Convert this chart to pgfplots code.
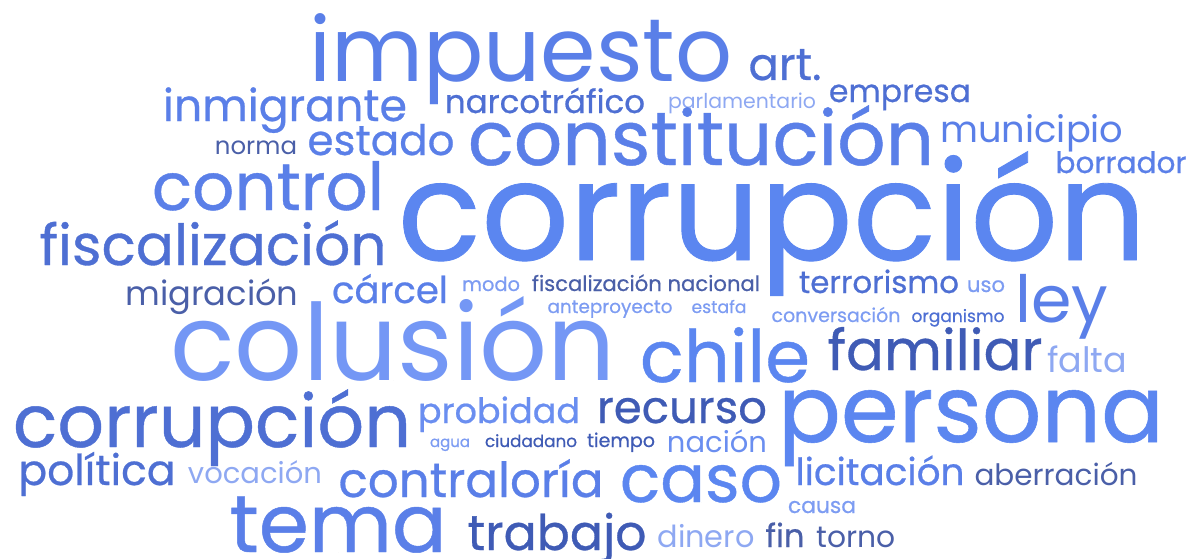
\documentclass[border=0pt]{standalone}
\usepackage{pgfplots}
\pgfplotsset{compat=1.18}
\usepackage{fontspec}
\setmainfont{Poppins}
\newfontfamily\fM[FakeBold=0.6]{Poppins}
\newfontfamily\fL{Poppins}
\definecolor{cA}{HTML}{5B86F0}
\definecolor{cB}{HTML}{5A7FE8}
\definecolor{cC}{HTML}{4E6FD3}
\definecolor{cD}{HTML}{3F5BB5}
\definecolor{cE}{HTML}{4A5FA8}
\definecolor{cF}{HTML}{7D9CF2}
\definecolor{cG}{HTML}{8EA8F2}
\definecolor{cH}{HTML}{7497F5}
\definecolor{cI}{HTML}{6A8EF0}
\begin{document}
\begin{tikzpicture}
\useasboundingbox (0,0) rectangle (1194pt,558pt);
\begin{axis}[scale only axis, width=1194pt, height=558pt,
  xmin=0, xmax=1194, ymin=0, ymax=558, hide axis, clip=false,
  point meta=explicit symbolic,
  visualization depends on={value \thisrow{wd}\as\wwd},
  visualization depends on={value \thisrow{c}\as\wc},
  visualization depends on={value \thisrow{w}\as\ww},
  nodes near coords={\csname f\ww\endcsname\resizebox{\wwd pt}{!}{\pgfplotspointmeta}},
  nodes near coords style={anchor=base, inner sep=0pt, text=c\wc},
]
\addplot[only marks, mark=*, mark size=0pt, mark options={draw=none, fill=none}]
  table[col sep=comma, row sep=\\, x=x, y=y, meta=label]{
x,y,wd,c,w,label\\
521,476,423,B,L,impuesto\\
785,478,73,C,M,art.\\
285,437,244,B,M,inmigrante\\
545,445,200,C,M,narcotráfico\\
742,450,148,G,L,parlamentario\\
900,456,142,C,M,empresa\\
256,404,82,E,L,norma\\
381,403,147,B,M,estado\\
701,393,466,B,M,constitución\\
1032,416,183,B,L,municipio\\
1121,385,131,B,M,borrador\\
772,298,748,A,M,corrupción\\
268,348,232,B,M,control\\
213,293,347,C,M,fiscalización\\
212,253,173,E,L,migración\\
390,255,116,B,M,cárcel\\
491,267,58,F,M,modo\\
646,267,228,E,M,fiscalización nacional\\
610,245,125,F,M,anteproyecto\\
719,245,55,F,M,estafa\\
879,265,160,C,M,terrorismo\\
986,266,38,F,M,uso\\
836,236,129,F,M,conversación\\
958,236,93,C,M,organismo\\
1062,236,93,B,L,ley\\
393,178,445,H,L,colusión\\
725,176,170,A,M,chile\\
935,188,215,D,M,familiar\\
1087,186,80,G,L,falta\\
212,111,398,C,M,corrupción\\
97,73,157,C,M,política\\
255,75,134,G,L,vocación\\
471,61,265,B,M,contraloría\\
338,6,217,B,M,tema\\
557,8,179,D,M,trabajo\\
706,11,97,G,L,dinero\\
785,11,39,E,M,fin\\
856,11,79,E,L,torno\\
499,135,162,I,M,probidad\\
682,135,170,D,M,recurso\\
450,111,40,F,M,agua\\
531,111,92,D,M,ciudadano\\
621,111,68,D,M,tiempo\\
717,106,100,I,L,nación\\
701,56,162,A,M,caso\\
971,116,386,A,M,persona\\
880,73,169,B,M,licitación\\
1056,73,163,E,L,aberración\\
822,45,68,F,M,causa\\
};
\end{axis}
\end{tikzpicture}
\end{document}
